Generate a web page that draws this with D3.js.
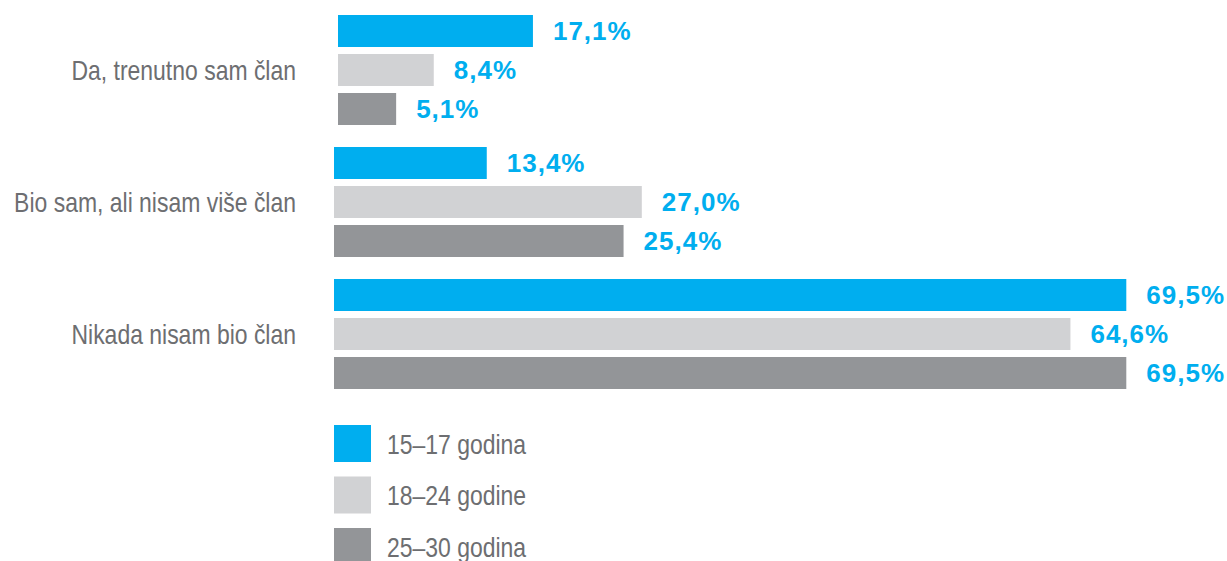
<!DOCTYPE html>
<html>
<head>
<meta charset="utf-8">
<script src="https://cdn.jsdelivr.net/npm/d3@7"></script>
<style>
  body { margin: 0; background: #fff; }
  svg { display: block; }
</style>
</head>
<body>
<svg></svg>
<script>
// data
const categories = ["Da, trenutno sam član", "Bio sam, ali nisam više član", "Nikada nisam bio član"];
const series = ["15–17 godina", "18–24 godine", "25–30 godina"];
const values15to17 = [17.1, 13.4, 69.5];
const values18to24 = [8.4, 27.0, 64.6];
const values25to30 = [5.1, 25.4, 69.5];

const colors = ["#00aeef", "#d1d2d4", "#939598"];
const labelColor = "#00aeef";
const textColor = "#6d6e71";
const sans = "'Liberation Sans', Arial, sans-serif";
// no narrow font installed, so squeeze the regular one
const narrowScale = 0.82;

const rows = categories.map((c, i) => ({
  category: c,
  values: [values15to17[i], values18to24[i], values25to30[i]]
}));

const svg = d3.select("svg").attr("width", 1227).attr("height", 561);

const y = d3.scaleBand().domain(categories).range([15, 389]).paddingInner(22 / 132).paddingOuter(0);
const yInner = d3.scaleBand().domain(series).range([0, y.bandwidth()]).paddingInner(7 / 39).paddingOuter(0);
const x = d3.scaleLinear().domain([0, 100]).range([334, 1474]);

// first group sits a few px to the right in the original
const groupShift = [4, 0, 0];

const groups = svg.selectAll("g.group")
  .data(rows)
  .enter()
  .append("g")
  .attr("class", "group")
  .attr("transform", (d) => `translate(0, ${y(d.category)})`);

groups.each(function (row, gi) {
  const g = d3.select(this);
  const bars = row.values.map((v, si) => ({ v, s: series[si], si }));

  g.selectAll("rect")
    .data(bars)
    .enter()
    .append("rect")
    .attr("x", x(0) + groupShift[gi])
    .attr("y", (d) => yInner(d.s))
    .attr("width", (d) => x(d.v) - x(0))
    .attr("height", yInner.bandwidth())
    .attr("fill", (d) => colors[d.si]);

  g.selectAll("text.value")
    .data(bars)
    .enter()
    .append("text")
    .attr("class", "value")
    .attr("x", (d) => x(d.v) + groupShift[gi] + 20)
    .attr("y", (d) => yInner(d.s) + yInner.bandwidth() / 2)
    .attr("dy", "0.36em")
    .attr("fill", labelColor)
    .style("font-family", sans)
    .style("font-weight", "bold")
    .style("font-size", "26px")
    .style("letter-spacing", "1px")
    .text((d) => d3.format(".1f")(d.v).replace(".", ",") + "%");

  g.append("g")
    .attr("transform", `translate(296, ${y.bandwidth() / 2}) scale(${narrowScale}, 1)`)
    .append("text")
    .attr("dy", "0.36em")
    .attr("text-anchor", "end")
    .attr("fill", textColor)
    .style("font-family", sans)
    .style("font-size", "28px")
    .text(row.category);
});

// legend
const legend = d3.scaleBand().domain(series).range([425, 565]).paddingInner(14.5 / 51.5).paddingOuter(0);

const items = svg.selectAll("g.legend")
  .data(series)
  .enter()
  .append("g")
  .attr("class", "legend")
  .attr("transform", (d) => `translate(334, ${legend(d)})`);

items.append("rect")
  .attr("width", 37)
  .attr("height", legend.bandwidth())
  .attr("fill", (d, i) => colors[i]);

items.append("g")
  .attr("transform", `translate(53, ${legend.bandwidth() / 2}) scale(${narrowScale}, 1)`)
  .append("text")
  .attr("dy", "0.36em")
  .attr("fill", textColor)
  .style("font-family", sans)
  .style("font-size", "28px")
  .text((d) => d);
</script>
</body>
</html>
